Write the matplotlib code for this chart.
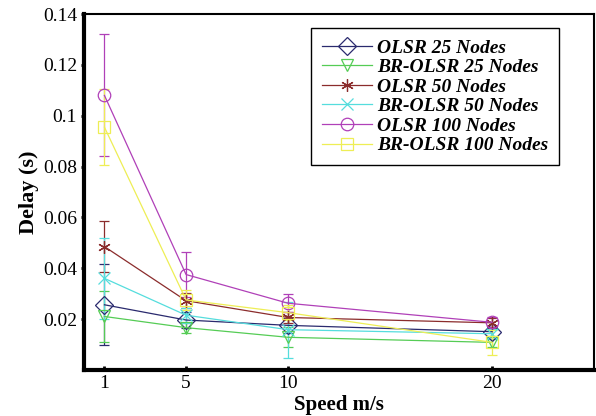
import matplotlib
matplotlib.use("Agg")
import matplotlib.pyplot as plt
from matplotlib.lines import Line2D

speed = [1, 5, 10, 20]

olsr25 = [0.0256, 0.0196, 0.0175, 0.0150]
olsr25_err = [0.016, 0.003, 0.003, 0.002]
br25 = [0.021, 0.0166, 0.0128, 0.0108]
br25_err = [0.010, 0.002, 0.004, 0.002]
olsr50 = [0.0485, 0.0272, 0.0206, 0.0185]
olsr50_err = [0.010, 0.003, 0.002, 0.002]
br50 = [0.036, 0.0215, 0.0158, 0.0142]
br50_err = [0.016, 0.003, 0.011, 0.002]
olsr100 = [0.108, 0.0375, 0.0262, 0.0187]
olsr100_err = [0.024, 0.009, 0.0035, 0.002]
br100 = [0.0955, 0.0275, 0.0225, 0.0108]
br100_err = [0.015, 0.004, 0.003, 0.005]

labels = ["OLSR 25 Nodes", "BR-OLSR 25 Nodes", "OLSR 50 Nodes",
          "BR-OLSR 50 Nodes", "OLSR 100 Nodes", "BR-OLSR 100 Nodes"]
colors = ["#2a2a6e", "#55cc55", "#8b2c2c", "#55dddd", "#b040b8", "#eeee55"]
markers = ["D", "v", (6, 2, 0), "x", "o", "s"]

series = [(olsr25, olsr25_err), (br25, br25_err), (olsr50, olsr50_err),
          (br50, br50_err), (olsr100, olsr100_err), (br100, br100_err)]

fig = plt.figure(figsize=(5.96, 4.16), dpi=100)
ax = fig.add_axes([0.141, 0.111, 0.856, 0.855])

handles = []
for (vals, err), lab, c, m in zip(series, labels, colors, markers):
    ax.errorbar(speed, vals, yerr=err, color=c, marker=m, markersize=9,
                markerfacecolor="none", markeredgecolor=c,
                markeredgewidth=0.9, linewidth=0.9, elinewidth=0.9,
                capsize=3.5)
    handles.append(Line2D([], [], color=c, marker=m, markersize=9,
                          markerfacecolor="none", markeredgecolor=c,
                          markeredgewidth=0.9, linewidth=0.9, label=lab))

ax.set_xlim(0, 25)
ax.set_ylim(0, 0.14)
ax.set_xticks(speed)
ax.set_yticks([0.02, 0.04, 0.06, 0.08, 0.1, 0.12, 0.14])
ax.set_yticklabels(["0.02", "0.04", "0.06", "0.08", "0.1", "0.12", "0.14"])

for lab in ax.get_xticklabels() + ax.get_yticklabels():
    lab.set_family("Liberation Serif")
    lab.set_fontsize(14)
ax.tick_params(axis="x", direction="in", length=3, width=2, pad=4)
ax.tick_params(axis="y", direction="out", length=2, width=2, pad=3)

ax.spines["left"].set_linewidth(3)
ax.spines["bottom"].set_linewidth(3)
ax.spines["top"].set_linewidth(1.5)
ax.spines["right"].set_linewidth(1.5)

ax.set_xlabel("Speed m/s", family="Liberation Serif", fontweight="bold",
              fontsize=15, labelpad=2)
ax.set_ylabel("Delay (s)", family="Liberation Serif", fontweight="bold",
              fontsize=16, labelpad=3)

leg = ax.legend(handles=handles, loc="upper left",
                bbox_to_anchor=(0.522, 0.932), bbox_transform=fig.transFigure,
                prop={"family": "Liberation Serif", "weight": "bold",
                      "style": "italic", "size": 14},
                fancybox=False, edgecolor="black", framealpha=1,
                handlelength=2.6, handletextpad=0.25, labelspacing=0.1,
                borderpad=0.55, borderaxespad=0)
leg.get_frame().set_linewidth(1)

fig.savefig("out.png", dpi=100)
